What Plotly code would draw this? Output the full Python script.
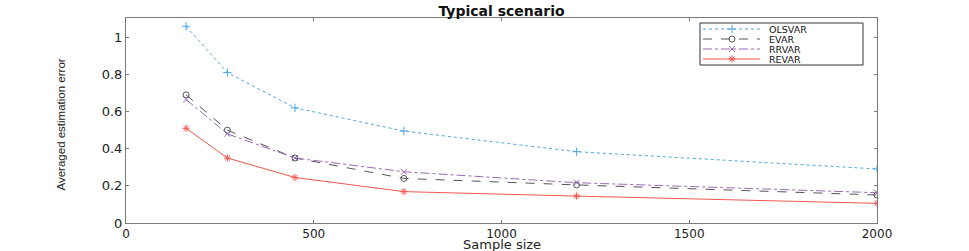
import plotly.graph_objects as go

sample_size = [160, 270, 450, 740, 1200, 2000]
olsvar = [1.06, 0.81, 0.62, 0.495, 0.384, 0.291]
evar = [0.69, 0.50, 0.35, 0.24, 0.205, 0.151]
rrvar = [0.665, 0.48, 0.35, 0.276, 0.217, 0.163]
revar = [0.51, 0.35, 0.245, 0.169, 0.145, 0.106]

series_names = ["OLSVAR", "EVAR", "RRVAR", "REVAR"]
series_values = [olsvar, evar, rrvar, revar]

x_ticks = [0, 500, 1000, 1500, 2000]
y_ticks = [0, 0.2, 0.4, 0.6, 0.8, 1]
y_tick_text = ["0", "0.2", "0.4", "0.6", "0.8", "1"]

colors = ["#4da6e6", "#555555", "#9b6ab5", "#f2574f"]
dashes = ["dot", "dash", "dashdot", "solid"]
symbols = ["cross-thin-open", "circle-open", "x-thin-open", "asterisk-open"]

W, H = 969, 251
# plot area in page pixels
PX0, PX1, PY0, PY1 = 126, 877, 18, 223
L, R, T, B = PX0, W - PX1, PY0, H - PY1

fig = go.Figure()
for name, ys, color, dash, sym in zip(series_names, series_values, colors, dashes, symbols):
    fig.add_trace(go.Scatter(
        x=sample_size, y=ys, name=name, mode="lines+markers", showlegend=False,
        line=dict(color=color, width=1, dash=dash),
        marker=dict(symbol=sym, size=6, color=color, line=dict(color=color, width=1)),
    ))

# Manual legend in page-pixel coordinates using an overlay axis
leg_x0, leg_x1, leg_y0, leg_y1 = 700, 863, 23, 65
row_y = [29, 39, 49, 59]
samp_x0, samp_x1, mark_x, text_x = 703, 760, 732, 768

fig.add_trace(go.Scatter(
    x=[mark_x] * 4, y=row_y, mode="markers", xaxis="x2", yaxis="y2", showlegend=False,
    marker=dict(symbol=symbols, size=6, color=colors, line=dict(color=colors, width=1)),
    hoverinfo="skip",
))

shapes = [dict(type="rect", xref="x2", yref="y2", x0=leg_x0, x1=leg_x1, y0=leg_y0, y1=leg_y1,
               line=dict(color="#333", width=1), fillcolor="white", layer="below")]
annotations = []
for name, color, dash, yy in zip(series_names, colors, dashes, row_y):
    shapes.append(dict(type="line", xref="x2", yref="y2", x0=samp_x0, x1=samp_x1, y0=yy, y1=yy,
                       line=dict(color=color, width=1, dash=dash)))
    annotations.append(dict(xref="x2", yref="y2", x=text_x, y=yy, text=name, showarrow=False,
                            xanchor="left", yanchor="middle", borderpad=0,
                            font=dict(family="DejaVu Sans, sans-serif", size=9.5, color="#111")))

# axis titles
annotations.append(dict(xref="paper", yref="paper", x=0.5, y=0, yshift=-21, text="Sample size",
                        showarrow=False, xanchor="center", yanchor="middle", borderpad=0,
                        font=dict(family="DejaVu Sans, sans-serif", size=13, color="#222")))
annotations.append(dict(xref="paper", yref="paper", x=0, xshift=-66, y=0.5, yshift=-4,
                        text="Averaged estimation error", textangle=-90,
                        showarrow=False, xanchor="center", yanchor="middle",
                        font=dict(family="Liberation Sans Narrow, Liberation Sans, Arial", size=11.5, color="#222")))

axis_common = dict(
    showline=True, linecolor="#7a7a7a", linewidth=1, mirror="ticks",
    ticks="inside", ticklen=3, tickcolor="#7a7a7a", showgrid=False, automargin=False,
    zeroline=False,
)

fig.update_layout(
    width=W, height=H,
    margin=dict(l=L, r=R, t=T, b=B),
    paper_bgcolor="white", plot_bgcolor="white",
    title=dict(text="<b>Typical scenario</b>", x=(PX0 + PX1) / 2 / W, xanchor="center",
               y=1 - 11.5 / H, yanchor="middle",
               font=dict(family="DejaVu Sans, sans-serif", size=14, color="#111")),
    xaxis=dict(range=[0, 2000], tickvals=x_ticks, ticktext=[str(v) for v in x_ticks],
               tickfont=dict(family="DejaVu Sans, sans-serif", size=12, color="#222"), **axis_common),
    yaxis=dict(range=[0, 1.104], tickvals=y_ticks, ticktext=y_tick_text,
               tickfont=dict(family="DejaVu Sans, sans-serif", size=13, color="#222"), **axis_common),
    xaxis2=dict(range=[PX0, PX1], overlaying="x", visible=False, fixedrange=True),
    yaxis2=dict(range=[PY1, PY0], overlaying="y", visible=False, fixedrange=True),
    shapes=shapes,
    annotations=annotations,
    showlegend=False,
)

fig.write_html("out.html", config={"displayModeBar": False},
               post_script="document.body.style.margin='0';")
